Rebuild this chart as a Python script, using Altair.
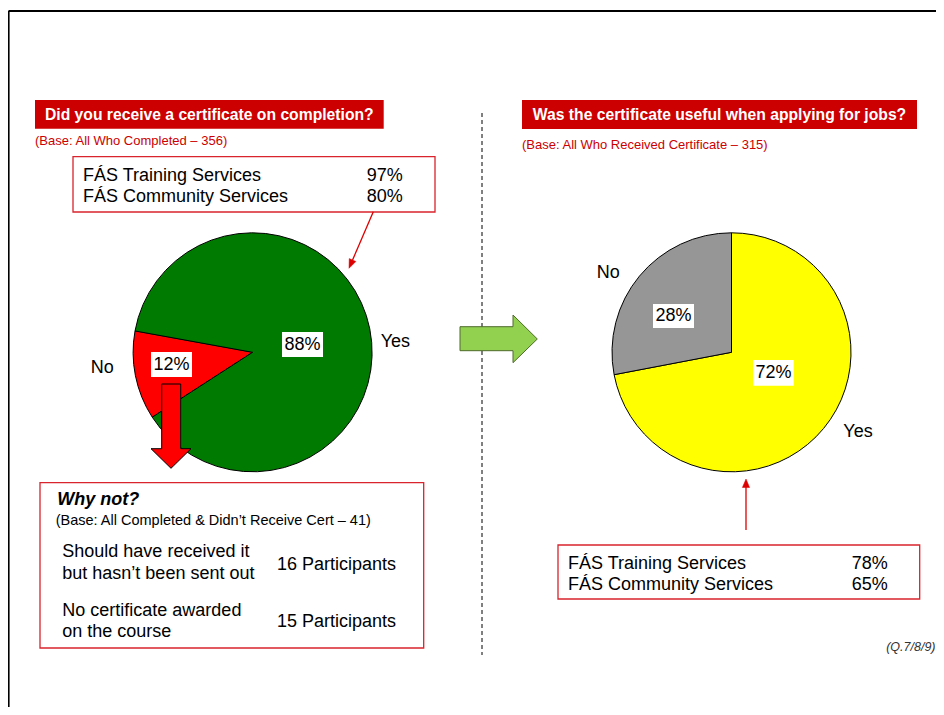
import math
import altair as alt
import pandas as pd

# ---------------- data ----------------
q1_title = "Did you receive a certificate on completion?"
q1_base = "(Base: All Who Completed – 356)"
q1_answers = ["No", "Yes"]
q1_values = [12, 88]
q1_colors = ["#FF0000", "#007A00"]
q1_services = ["FÁS Training Services", "FÁS Community Services"]
q1_service_pct = ["97%", "80%"]

q2_title = "Was the certificate useful when applying for jobs?"
q2_base = "(Base: All Who Received Certificate – 315)"
q2_answers = ["Yes", "No"]
q2_values = [72, 28]
q2_colors = ["#FFFF00", "#969696"]
q2_services = ["FÁS Training Services", "FÁS Community Services"]
q2_service_pct = ["78%", "65%"]

why_title = "Why not?"
why_base = "(Base: All Completed & Didn’t Receive Cert – 41)"
why_reasons = [["Should have received it", "but hasn’t been sent out"],
               ["No certificate awarded", "on the course"]]
why_counts = [16, 15]
source_note = "(Q.7/8/9)"

# ---------------- layout (page pixel coordinates) ----------------
W, H = 928, 699
FONT = "Liberation Sans"
XS = alt.Scale(domain=[8, 8 + W], nice=False, zero=False)
YS = alt.Scale(domain=[8, 8 + H], nice=False, zero=False, reverse=True)
R = 119.5
PIE1 = (252.6, 352.3, 237.1)   # centre x, centre y, start angle (deg)
PIE2 = (731.5, 352.3, 0.0)
RED = "#CC0000"
BOXRED = "#D9232D"


def X(f="x"):
    return alt.X(f"{f}:Q", scale=XS, axis=None)


def Y(f="y"):
    return alt.Y(f"{f}:Q", scale=YS, axis=None)


def txt(rows, **mk):
    df = pd.DataFrame(rows, columns=["t", "x", "y"])
    return alt.Chart(df).mark_text(font=FONT, **mk).encode(x=X(), y=Y(), text="t:N")


def rects(rows, **mk):
    df = pd.DataFrame(rows, columns=["x", "x2", "y", "y2"])
    return alt.Chart(df).mark_rect(**mk).encode(
        x=X(), x2="x2:Q", y=Y(), y2="y2:Q")


def rules(rows, **mk):
    df = pd.DataFrame(rows, columns=["x", "x2", "y", "y2"])
    return alt.Chart(df).mark_rule(**mk).encode(
        x=X(), x2="x2:Q", y=Y(), y2="y2:Q")


def pie(answers, values, colors, centre):
    cx, cy, start = centre
    a = math.radians(start)
    df = pd.DataFrame({"answer": answers, "value": values,
                       "slot": list(range(len(answers)))})
    return alt.Chart(df).mark_arc(radius=R, stroke="black", strokeWidth=1).encode(
        theta=alt.Theta("value:Q", stack=True,
                        scale=alt.Scale(range=[a, a + 2 * math.pi])),
        color=alt.Color("answer:N", scale=alt.Scale(domain=answers, range=colors),
                        legend=None),
        order=alt.Order("slot:Q"),
        x=alt.value(cx - 8), y=alt.value(cy - 8),
    )


def poly(pts, fill, stroke, sw=1.0):
    ring = [[p[0] - 8, p[1] - 8] for p in pts]
    ring.append(ring[0])
    return {"type": "Feature",
            "properties": {"fill": fill, "stroke": stroke, "sw": sw},
            "geometry": {"type": "Polygon", "coordinates": [ring]}}


# frame & divider
frame = rules([[8.5, 8 + W, 11, 11], [8.5, 8.5, 11, 8 + H]], color="black", strokeWidth=2.2)
divider = rules([[482, 482, 113, 655]], color="black", strokeWidth=1, strokeDash=[4, 3])

# title bars
title_bars = rects([[35, 383.7, 100, 128.7], [522, 917, 100, 129]], color=RED)

# outlined boxes
boxes = rects([[73, 435, 156.7, 212], [40, 423.7, 482.7, 648], [558, 919.7, 545, 599]],
              fill="white", stroke=BOXRED, strokeWidth=1.3)

pie1 = pie(q1_answers, q1_values, q1_colors, PIE1)
pie2 = pie(q2_answers, q2_values, q2_colors, PIE2)

# white boxes behind the percentage labels
pct_boxes = rects([[151, 192, 352, 377], [282, 323, 332, 357],
                   [753, 793.7, 360, 385.7], [653, 694, 304, 328]],
                  color="white")

# block arrows & arrow heads
u = (-24.3 / 61.6, 56.6 / 61.6)
tip = (349, 268.3)
base = (tip[0] - 9 * u[0], tip[1] - 9 * u[1])
perp = (u[1], -u[0])
features = [
    poly([(460, 326.7), (513, 326.7), (513, 315), (537.3, 339), (513, 362.7),
          (513, 350.7), (460, 350.7)], "#92D050", "#4E6B2A"),
    poly([(161.7, 384), (180.7, 384), (180.7, 448.7), (191, 448.7), (171, 468.3),
          (151, 448.7), (161.7, 448.7)], "#FF0000", "#000000"),
    poly([tip, (base[0] + 3.6 * perp[0], base[1] + 3.6 * perp[1]),
          (base[0] - 3.6 * perp[0], base[1] - 3.6 * perp[1])], "#DD0000", "#DD0000", 0.5),
    poly([(746, 479), (749.6, 487.5), (742.4, 487.5)], "#DD0000", "#DD0000", 0.5),
]
shapes = alt.Chart(alt.Data(values=features)).mark_geoshape().encode(
    fill=alt.Fill("properties.fill:N", scale=None),
    stroke=alt.Stroke("properties.stroke:N", scale=None),
    strokeWidth=alt.StrokeWidth("properties.sw:Q", scale=None),
).project(type="identity", scale=1, translate=[0, 0])

shafts = rules([[373.3, base[0], 211.7, base[1]], [746, 746, 530, 487]],
               color="#DD0000", strokeWidth=1.3)

# texts
titles = txt([[q1_title, 209.3, 114.5], [q2_title, 719.5, 114.5]],
             color="white", fontWeight="bold", fontSize=15.7, align="center", baseline="middle")
bases = txt([[q1_base, 35, 141], [q2_base, 522, 144.5]],
            color=RED, fontSize=13, align="left", baseline="middle")

body_rows = [
    [q1_services[0], 83, 180.6], [q1_services[1], 83, 201.9],
    [q1_service_pct[0], 366.7, 180.6], [q1_service_pct[1], 366.7, 201.9],
    [q2_services[0], 568, 568.9], [q2_services[1], 568, 590.2],
    [q2_service_pct[0], 851.7, 568.9], [q2_service_pct[1], 851.7, 590.2],
    [why_reasons[0][0], 62.3, 557.3], [why_reasons[0][1], 62.3, 579.3],
    [f"{why_counts[0]} Participants", 277, 570.3],
    [why_reasons[1][0], 62.3, 615.7], [why_reasons[1][1], 62.3, 637.3],
    [f"{why_counts[1]} Participants", 277, 627],
    [q1_answers[0], 90.7, 372.5], [q1_answers[1], 380.7, 346.7],
    [q2_answers[1], 596.7, 277.7], [q2_answers[0], 843.3, 437.3],
]
body = txt(body_rows, color="black", fontSize=18, align="left", baseline="alphabetic")

pct_rows = [
    [f"{q1_values[0]}%", 171.5, 364.8], [f"{q1_values[1]}%", 302.5, 344.8],
    [f"{q2_values[0]}%", 773.4, 373.1], [f"{q2_values[1]}%", 673.5, 316.3],
]
pct_labels = txt(pct_rows, color="black", fontSize=18, align="center", baseline="middle")

why_head = txt([[why_title, 57.3, 505.2]], color="black", fontSize=18,
               fontWeight="bold", fontStyle="italic", align="left", baseline="alphabetic")
why_sub = txt([[why_base, 55.7, 524.7]], color="black", fontSize=14.5,
              align="left", baseline="alphabetic")
note = txt([[source_note, 935.5, 647]], color="#333333", fontSize=12.5,
           fontStyle="italic", align="right", baseline="middle")

chart = alt.layer(
    frame, divider, title_bars, boxes, pie1, pie2, pct_boxes, shapes, shafts,
    titles, bases, body, pct_labels, why_head, why_sub, note,
).resolve_scale(
    theta="independent", color="independent"
).properties(
    width=W, height=H, autosize=alt.AutoSizeParams(type="none"), padding=0,
    background="white",
).configure_view(stroke=None)

chart.save("out.html", embed_options={"renderer": "svg", "actions": False})
